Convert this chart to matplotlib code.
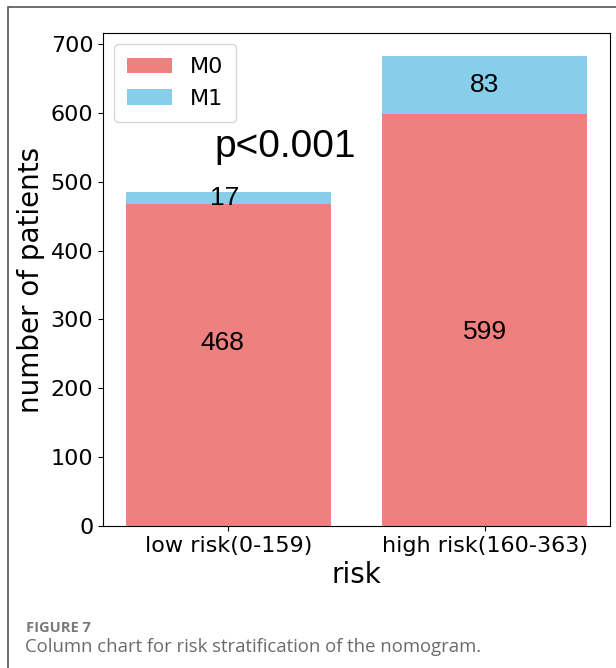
import numpy as np
import matplotlib.pyplot as plt
from matplotlib.patches import Rectangle

# data
grupos = ["low risk(0-159)", "high risk(160-363)"]
m0 = [468, 599]
m1 = [17, 83]
p_texto = "p<0.001"

W, H = 616, 668
fig = plt.figure(figsize=(W/100, H/100), dpi=100)
ax = fig.add_axes([103/W, 1-526/H, (610-103)/W, (526-33)/H])

x = np.arange(len(grupos))
ax.bar(x, m0, color="lightcoral", label="M0")
ax.bar(x, m1, bottom=m0, color="skyblue", label="M1")

y_m0 = [266, 282]
dx_m0 = [-0.025, 0.0]
for i in range(len(grupos)):
    ax.text(x[i]+dx_m0[i], y_m0[i], str(m0[i]), ha="center", va="center",
            fontsize=19, family="Liberation Sans")
    ax.text(x[i]-0.015*(i == 0), m0[i]+m1[i]/2, str(m1[i]), ha="center", va="center",
            fontsize=19, family="Liberation Sans")

ax.text(0.22, 550, p_texto, ha="center", va="center", fontsize=28, family="Liberation Sans")

ax.set_xticks(x)
ax.set_xticklabels(grupos, fontsize=16)
ax.tick_params(axis="y", labelsize=16)
ax.set_yticks(np.arange(0, 701, 100))
ax.set_xlabel("risk", fontsize=20)
ax.set_ylabel("number of patients", fontsize=20)
ax.legend(loc="upper left", fontsize=16, borderpad=0.6)

# marco y pie de figura
fig.add_artist(Rectangle((8/W, -0.1), 1.2, (H-7)/H+0.1, transform=fig.transFigure,
                         fill=False, edgecolor="#555555", linewidth=1.2))
fig.text(26/W, 1-628/H, "FIGURE 7", fontsize=10.5, color="#7a7a7a", weight="bold",
         family="Open Sans", va="center")
fig.text(25/W, 1-647/H, "Column chart for risk stratification of the nomogram.", fontsize=13.3,
         color="#6b6b6b", family="Open Sans", va="center")

fig.savefig("out.png", dpi=100)
